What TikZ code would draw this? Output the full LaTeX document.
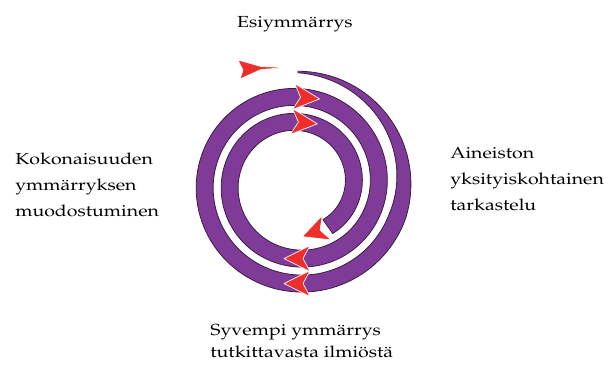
\documentclass[tikz,border=0pt]{standalone}
\usepackage[T1]{fontenc}
\usepackage{mathpazo}
\usepackage{tikz}
\usetikzlibrary{positioning}
\definecolor{cycleViolet}{HTML}{803A98}
\definecolor{cycleEdge}{HTML}{3B1F45}
\definecolor{cycleRed}{HTML}{EE2E2A}

\begin{document}
\begin{tikzpicture}[
  x=0.75pt, y=-0.75pt,
  phase/.style={font=\fontsize{12}{19.5}\selectfont, xscale=1.22, align=left, inner sep=0pt},
  band/.style={fill=cycleViolet, draw=cycleEdge, line width=.6pt, line join=round},
  headfill/.style={fill=cycleRed, draw=white, line width=.5pt, line join=round},
  chevron/.pic={\path[headfill] (14,0) -- (-12,-13) -- (-5,0) -- (-12,13) -- cycle;}
]
  \useasboundingbox (0,0) rectangle (610,365);

  % spiral band, radius shrinking clockwise from the top
  \path[band] plot[domain=0:865, samples=300, variable=\t]
      ({298+(112-\t/14.4+min(17,1.5+\t/7)/2)*sin(\t)}, {184-(112-\t/14.4+min(17,1.5+\t/7)/2)*cos(\t)})
    -- plot[domain=865:0, samples=300, variable=\t]
      ({298+(112-\t/14.4-min(17,1.5+\t/7)/2)*sin(\t)}, {184-(112-\t/14.4-min(17,1.5+\t/7)/2)*cos(\t)})
    -- cycle;

  \path[headfill] (238,60) -- (261,66.5) -- (287,67.5) -- (261,69.5) -- (240,79) -- (243,70) -- cycle;
  \foreach \a in {180,365,540,725,880}
    \pic[rotate=-\a] at ({298+(112-\a/14.4)*sin(\a)}, {184-(112-\a/14.4)*cos(\a)}) {chevron};

  % multi-line nodes: base is the last line
  \node[phase, anchor=base] (pre) at (295,27.7) {Esiymmärrys};
  \node[phase, anchor=base west] (detail) at (450,210) {Aineiston\\yksityiskohtainen\\tarkastelu};
  \node[phase, anchor=base west] (whole) at (15,216.7) {Kokonaisuuden\\ymmärryksen\\muodostuminen};
  \node[phase, font=\fontsize{12}{16.5}\selectfont, anchor=base west] (deeper) at (210,357) {Syvempi ymmärrys\\tutkittavasta ilmiöstä};
\end{tikzpicture}
\end{document}
